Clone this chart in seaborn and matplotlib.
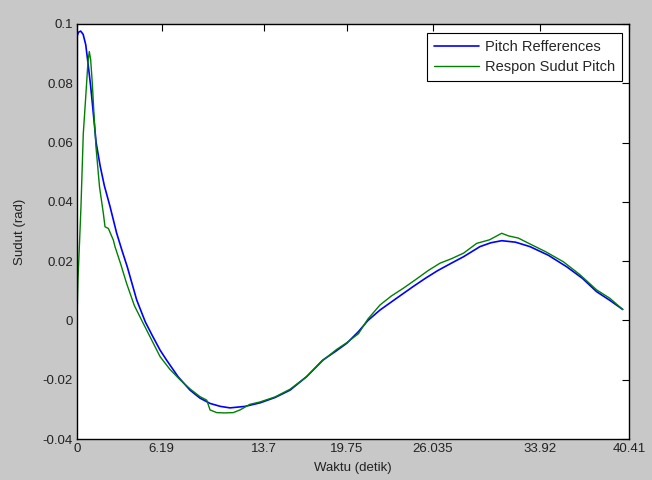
import pandas as pd
import seaborn as sns
import matplotlib.pyplot as plt

# Pitch reference (blue)
ref_t = [0, 0.02, 0.1, 0.27, 0.45, 0.64, 0.8, 1.0, 1.15, 1.4, 1.7, 2.0, 2.42, 2.9,
         3.3, 3.68, 4.37, 5.0, 5.5, 6.08, 6.56, 7.4, 8.27, 9.0, 9.74, 10.5, 11.2,
         12.3, 13.4, 14.5, 15.6, 16.8, 17.99, 19.0, 19.75, 20.6, 21.3, 22.18, 23.4,
         24.6, 25.5, 26.4, 27.4, 28.3, 29.5, 30.3, 31.09, 32.1, 33.16, 34.5, 35.85,
         37.0, 38.04, 39.0, 39.95]
ref_y = [0, 0.096, 0.0972, 0.0976, 0.0965, 0.093, 0.087, 0.079, 0.072, 0.06,
         0.052, 0.0455, 0.0384, 0.0295, 0.0235, 0.0181, 0.0069, -0.0005, -0.005,
         -0.01, -0.0134, -0.019, -0.0235, -0.0262, -0.028, -0.029, -0.0295, -0.029,
         -0.0278, -0.026, -0.0235, -0.019, -0.0134, -0.0102, -0.0077, -0.0038, 0.0,
         0.0035, 0.0075, 0.0114, 0.0142, 0.0168, 0.0193, 0.0215, 0.0249, 0.0262,
         0.0269, 0.0264, 0.0249, 0.022, 0.0181, 0.0142, 0.0097, 0.0068, 0.0037]

# Pitch response (green)
resp_t = [0, 0.07, 0.2, 0.29, 0.46, 0.64, 0.8, 0.9, 1.0, 1.12, 1.25, 1.39, 1.65,
          1.93, 2.05, 2.3, 2.66, 2.78, 3.2, 3.63, 4.2, 4.85, 5.4, 6.08, 6.8, 7.54,
          8.3, 9.0, 9.5, 9.74, 10.23, 10.8, 11.44, 11.93, 12.66, 13.4, 14.5, 15.6,
          16.8, 18.0, 19.0, 19.75, 20.6, 21.3, 22.18, 23.0, 23.9, 24.8, 25.7, 26.57,
          27.4, 28.3, 29.26, 30.2, 31.09, 31.6, 32.3, 33.16, 34.3, 35.6, 36.8, 38.04,
          39.0, 39.95]
resp_y = [0, 0.0136, 0.028, 0.0384, 0.063, 0.0755, 0.087, 0.0907, 0.088, 0.08,
          0.069, 0.0585, 0.045, 0.0361, 0.0316, 0.031, 0.0271, 0.0249, 0.019,
          0.0125, 0.005, -0.001, -0.006, -0.0122, -0.0165, -0.02, -0.0232, -0.0257,
          -0.0269, -0.0302, -0.0311, -0.0312, -0.0311, -0.0302, -0.0283, -0.0275,
          -0.0258, -0.0232, -0.019, -0.0135, -0.0098, -0.0075, -0.0045, 0.0005,
          0.0052, 0.0082, 0.0109, 0.0138, 0.0168, 0.0193, 0.0208, 0.0227, 0.026,
          0.0272, 0.0294, 0.0285, 0.0278, 0.0258, 0.0232, 0.0198, 0.0155, 0.0103,
          0.0075, 0.0037]

x_ticks = [0, 6.19, 13.7, 19.75, 26.035, 33.92, 40.41]
x_labels = ["0", "6.19", "13.7", "19.75", "26.035", "33.92", "40.41"]
y_ticks = [-0.04, -0.02, 0, 0.02, 0.04, 0.06, 0.08, 0.1]
y_labels = ["-0.04", "-0.02", "0", "0.02", "0.04", "0.06", "0.08", "0.1"]

sns.set_style("white")
plt.rcParams['font.family'] = ['Liberation Sans', 'DejaVu Sans']
plt.rcParams['font.size'] = 9.5

bg = "#c8c8c8"
fig = plt.figure(figsize=(6.52, 4.8), dpi=100, facecolor=bg)
ax = fig.add_axes([77 / 652, 1 - 439 / 480, 552 / 652, 415 / 480])
ax.set_facecolor("white")

ref = pd.DataFrame({"t": ref_t, "y": ref_y})
resp = pd.DataFrame({"t": resp_t, "y": resp_y})
sns.lineplot(data=ref, x="t", y="y", ax=ax, color=(0, 0, 1), lw=1.2,
             estimator=None, sort=False, label="Pitch Refferences")
sns.lineplot(data=resp, x="t", y="y", ax=ax, color=(0, 0.5, 0), lw=1.0,
             estimator=None, sort=False, label="Respon Sudut Pitch")

ax.set_xlim(0, 40.41)
ax.set_ylim(-0.04, 0.1)
ax.set_xticks(x_ticks)
ax.set_xticklabels(x_labels)
ax.set_yticks(y_ticks)
ax.set_yticklabels(y_labels)
ax.tick_params(direction="in", length=5, width=0.8, top=True, right=True,
               colors="black", labelcolor="#222222", labelsize=9.5, pad=3)
for s in ax.spines.values():
    s.set_visible(True)
    s.set_color("black")
    s.set_linewidth(1.0)

ax.set_xlabel("Waktu (detik)", fontsize=9.5, color="#222222", labelpad=5)
ax.set_ylabel("Sudut (rad)", fontsize=9.5, color="#222222", labelpad=12)

leg = ax.legend(loc="upper right", bbox_to_anchor=(0.988, 0.979),
                borderaxespad=0, handlelength=3.1, fontsize=10.5,
                fancybox=False, framealpha=1, edgecolor="black",
                borderpad=0.5, labelspacing=0.4, handletextpad=0.4)
leg.get_frame().set_linewidth(0.8)

plt.savefig("out.png", dpi=100, facecolor=bg)
plt.close()
